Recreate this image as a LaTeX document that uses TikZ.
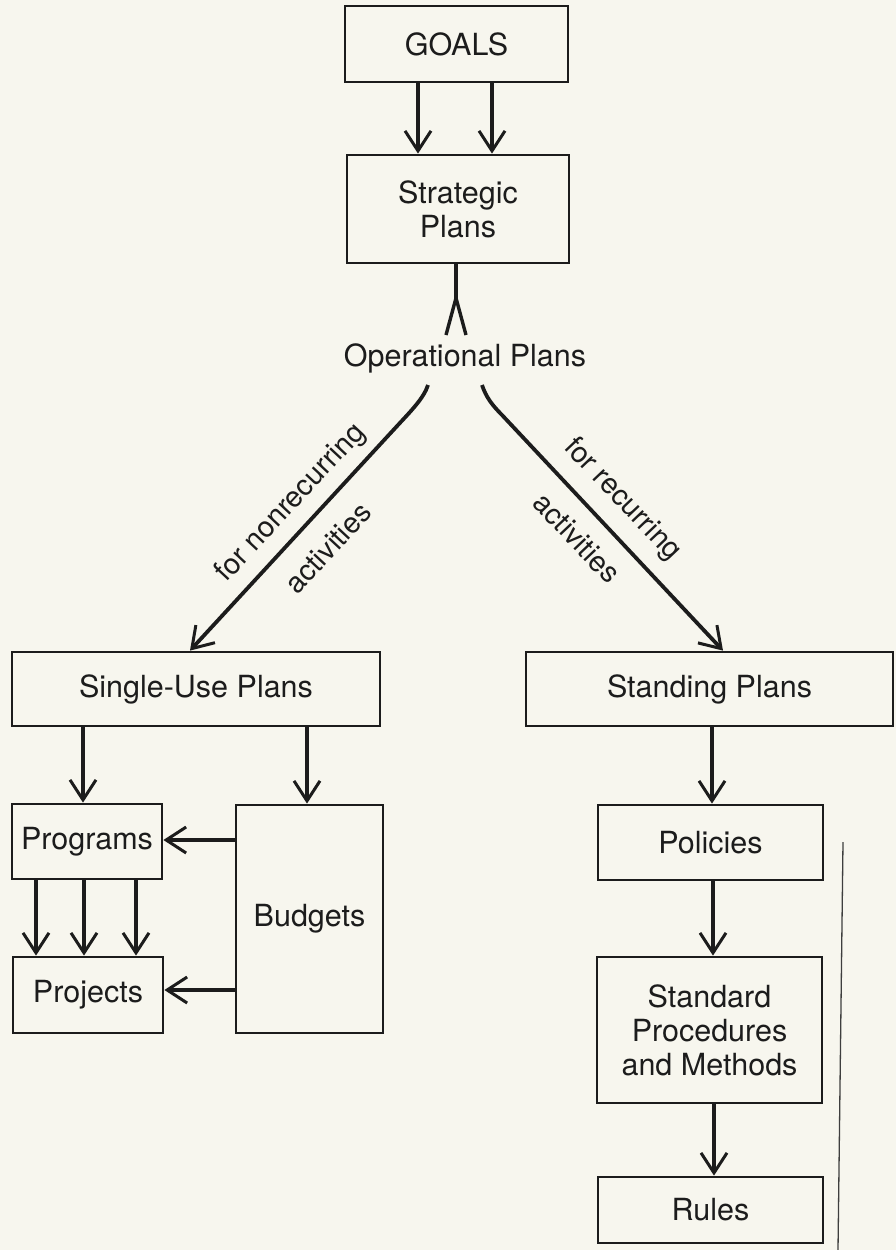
\documentclass[tikz,border=0pt]{standalone}
\usepackage{fontspec}
\setmainfont{TeX Gyre Heros}
\usetikzlibrary{arrows.meta,calc}
\definecolor{paper}{HTML}{F7F6EE}
\definecolor{ink}{HTML}{1C1C1C}
\begin{document}
\begin{tikzpicture}[x=1pt,y=-1pt,
  every node/.style={font=\fontsize{30.5}{34}\selectfont, text=ink},
  box/.style={draw=ink, line width=2.8pt, inner sep=0pt, align=center},
  arr/.style={draw=ink, line width=3.8pt,
    -{Straight Barb[length=20pt,width=26pt,line width=3pt]}},
  link/.style={draw=ink, line width=3.8pt},
  rot/.style={inner sep=0pt, font=\fontsize{29}{34}\selectfont}]

% paper
\fill[paper] (0,0) rectangle (896,1250);
\useasboundingbox (0,0) rectangle (896,1250);

% top of the hierarchy
\node[box, minimum width=223pt, minimum height=76pt] (goals) at (456.5,44) {GOALS};
\node[box, minimum width=222pt, minimum height=108pt] (strat) at (458,209) {Strategic\\Plans};
\node[inner sep=0pt] (op) at (465,358) {Operational Plans};

% single-use branch
\node[box, minimum width=368pt, minimum height=74pt] (single) at (196,689) {Single-Use Plans};
\node[box, minimum width=150pt, minimum height=75pt] (programs) at (87,841.5) {Programs};
\node[box, minimum width=150pt, minimum height=76pt] (projects) at (88,995) {Projects};
\node[box, minimum width=147pt, minimum height=228pt] (budgets) at (309.5,919) {Budgets};

% standing branch
\node[box, minimum width=367pt, minimum height=74pt] (standing) at (709.5,689) {Standing Plans};
\node[box, minimum width=225pt, minimum height=75pt] (policies) at (710.5,842.5) {Policies};
\node[box, minimum width=225pt, minimum height=146pt] (spm) at (709.5,1030) {Standard\\Procedures\\and Methods};
\node[box, minimum width=225pt, minimum height=66pt] (rules) at (710.5,1210) {Rules};

% goals feed strategic plans
\foreach \dx in {-38.5,35.5}
  \draw[arr] ($(goals.south)+(\dx,0)$) -- ($(strat.north)+(\dx-1.5,0)$);

% strategic plans joined to operational plans by a forked stem
\coordinate (apex) at (456,298);
\coordinate (footL) at (446,335);
\coordinate (footR) at (466,335);
\draw[link] ($(strat.south)+(-2,0)$) -- (apex);
\draw[draw=ink, line width=3.4pt, line join=miter] (footL) -- (apex) -- (footR);

% the two branches out of operational plans
\coordinate (lstart) at (428,385);
\coordinate (rstart) at (482,385);
\draw[arr] (lstart) .. controls (424,398) and (410,412) .. (398,425)
  -- ($(single.north)+(-6,0)$);
\draw[arr] (rstart) .. controls (486,397) and (492,405) .. (502,415)
  -- ($(standing.north)+(13.5,0)$);

\node[rot, rotate=47] (lblL1) at (291,503) {for nonrecurring};
\node[rot, rotate=47] (lblL2) at (328,548) {activities};
\node[rot, rotate=-46.5] (lblR1) at (622,500) {for recurring};
\node[rot, rotate=-46.5] (lblR2) at (577,538) {activities};

% single-use plans
\draw[arr] ($(single.south -| programs.north)+(-4,0)$) -- ($(programs.north)+(-4,0)$);
\draw[arr] ($(single.south -| budgets.north)+(-2.5,0)$) -- ($(budgets.north)+(-2.5,0)$);
\foreach \dx in {-51,-3,49}
  \draw[arr] ($(programs.south)+(\dx,0)$) -- ($(projects.north)+(\dx-1,0)$);
\draw[arr] ($(budgets.west)+(0,-79)$) -- ($(programs.east)+(0,-1.5)$);
\draw[arr] ($(budgets.west)+(0,71)$) -- ($(projects.east)+(0,-5)$);

% standing plans
\draw[arr] ($(standing.south)+(2.5,0)$) -- ($(policies.north)+(1.5,0)$);
\draw[arr] ($(policies.south)+(2.5,0)$) -- ($(spm.north)+(3.5,0)$);
\draw[arr] ($(spm.south)+(4.5,0)$) -- ($(rules.north)+(3.5,0)$);

% thin rule beside the standing-plan column
\draw[draw=ink!85, line width=1.3pt] (843,842) -- (838,1250);
\end{tikzpicture}
\end{document}
